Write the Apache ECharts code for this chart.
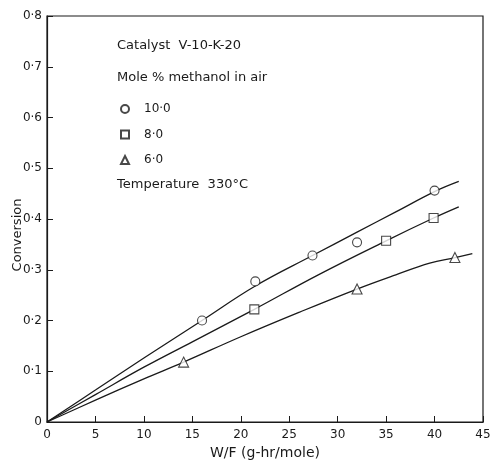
<!DOCTYPE html>
<html>
<head>
<meta charset="UTF-8">
<title></title>
<style>
	*{padding:0;margin:0;}
	body{background:#fff;}
	#chart{width:492px;height:460px;}
</style>
</head>
<body>
<div id="chart"></div>
<script src="https://cdn.jsdelivr.net/npm/echarts@6/dist/echarts.min.js"></script>
<script>
// measured points
var pts10 = [[16, 0.2], [21.5, 0.277], [27.4, 0.328], [32, 0.354], [40, 0.456]];
var pts8 = [[21.4, 0.222], [35, 0.357], [39.9, 0.402]];
var pts6 = [[14.1, 0.118], [32, 0.262], [42.1, 0.324]];
// fitted curves
var fit10 = [[0, 0], [5, 0.063], [10, 0.126], [16, 0.2], [21.5, 0.268], [27.4, 0.328], [32, 0.374], [36, 0.414], [40, 0.454], [42.5, 0.474]];
var fit8 = [[0, 0], [5, 0.054], [10, 0.108], [15, 0.158], [21.4, 0.222], [28, 0.29], [35, 0.357], [39.9, 0.402], [42.5, 0.424]];
var fit6 = [[0, 0], [5, 0.043], [10, 0.085], [14.1, 0.118], [20, 0.168], [26, 0.216], [32, 0.262], [36, 0.29], [39.5, 0.313], [42.1, 0.324], [43.9, 0.332]];
var names = ["10·0", "8·0", "6·0"];

var chart = echarts.init(document.getElementById("chart"));
var ink = "#1a1a1a";
var font = "DejaVu Sans";

function marks(name, data, sym, size){
	return {
		name: name,
		type: "scatter",
		symbol: sym,
		symbolSize: size,
		itemStyle: {color: "#fff", borderColor: ink, borderWidth: 1.1},
		data: data,
		z: 5
	};
}
function curve(data){
	return {
		type: "line",
		smooth: 0.4,
		symbol: "none",
		lineStyle: {color: ink, width: 1.3},
		data: data
	};
}

chart.setOption({
	animation: false,
	grid: {left: 47, right: 9, top: 16, bottom: 38, outerBoundsMode: "none", containLabel: false,
		show: true, borderColor: ink, borderWidth: 1.2},
	legend: {
		data: names,
		orient: "vertical",
		left: 115, top: 98,
		itemGap: 13.5,
		itemWidth: 8, itemHeight: 8,
		textStyle: {color: ink, fontFamily: font, fontSize: 12, padding: [0, 0, 0, 10]}
	},
	xAxis: {
		type: "value", min: 0, max: 45, interval: 5,
		name: "W/F (g-hr/mole)", nameLocation: "middle", nameGap: 24, nameMoveOverlap: false,
		nameTextStyle: {color: ink, fontFamily: font, fontSize: 14},
		axisLine: {lineStyle: {color: ink, width: 1.2}},
		axisTick: {inside: true, length: 6, lineStyle: {color: ink}},
		axisLabel: {color: ink, fontFamily: font, fontSize: 12, margin: 7},
		splitLine: {show: false}
	},
	yAxis: {
		type: "value", min: 0, max: 0.8, interval: 0.1,
		name: "Conversion", nameLocation: "middle", nameGap: 23, nameMoveOverlap: false,
		nameTextStyle: {color: ink, fontFamily: font, fontSize: 13, padding: [0, 32, 0, 0]},
		axisLine: {lineStyle: {color: ink, width: 1.2}},
		axisTick: {inside: true, length: 6, lineStyle: {color: ink}},
		axisLabel: {
			color: ink, fontFamily: font, fontSize: 12, margin: 5,
			formatter: function(v){ return v === 0 ? "0" : v.toFixed(1).replace(".", "·"); }
		},
		splitLine: {show: false}
	},
	graphic: [
		{type: "text", left: 117, top: 39, style: {text: "Catalyst  V-10-K-20", fill: ink, font: "13px " + font}},
		{type: "text", left: 117, top: 71, style: {text: "Mole % methanol in air", fill: ink, font: "13px " + font}},
		{type: "text", left: 117, top: 178, style: {text: "Temperature  330°C", fill: ink, font: "13px " + font}}
	],
	series: [
		curve(fit10), curve(fit8), curve(fit6),
		marks(names[0], pts10, "circle", 9),
		marks(names[1], pts8, "rect", 9),
		marks(names[2], pts6, "triangle", 10)
	]
});
</script>
</body>
</html>
